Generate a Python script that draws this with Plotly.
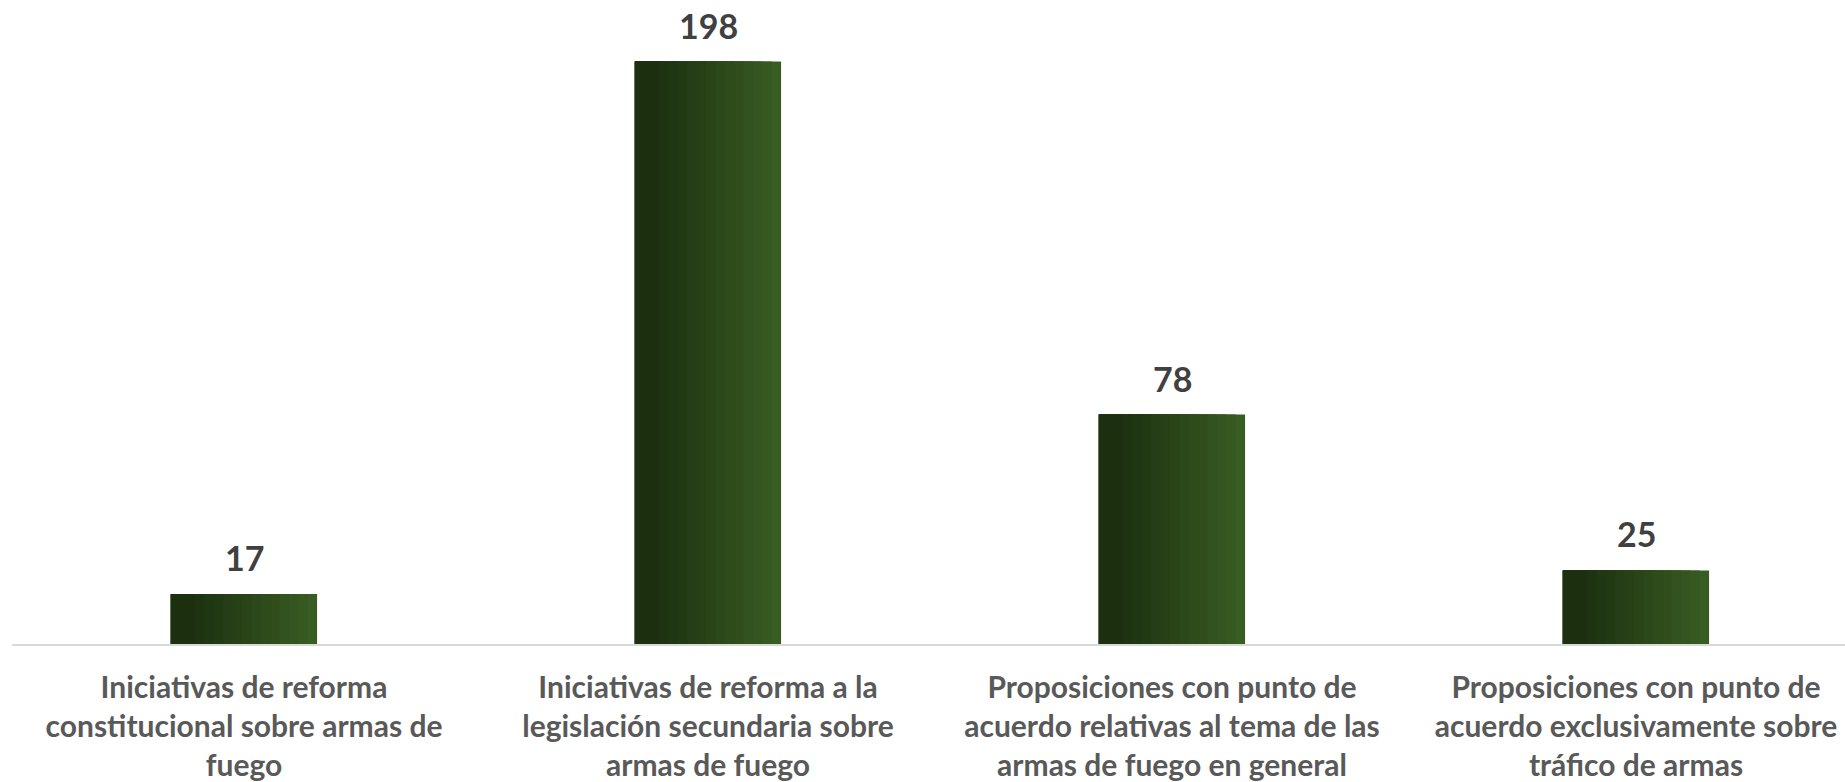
import plotly.graph_objects as go

categories = [
    "Iniciativas de reforma<br>constitucional sobre armas de<br>fuego",
    "Iniciativas de reforma a la<br>legislación secundaria sobre<br>armas de fuego",
    "Proposiciones con punto de<br>acuerdo relativas al tema de las<br>armas de fuego en general",
    "Proposiciones con punto de<br>acuerdo exclusivamente sobre<br>tráfico de armas",
]
values = [17, 198, 78, 25]

# horizontal gradient, dark on the left, lighter on the right
DARK = (28, 48, 16)
LIGHT = (56, 92, 34)
STEPS = 14
BAR_W = 0.315
FONT = "Lato, 'Open Sans', sans-serif"

fig = go.Figure()
for k in range(STEPS):
    t = k / (STEPS - 1)
    c = tuple(round(LIGHT[i] + (DARK[i] - LIGHT[i]) * t) for i in range(3))
    w = BAR_W * (1 - 0.9 * k / STEPS)
    fig.add_trace(go.Bar(
        x=categories, y=values,
        width=w, offset=-BAR_W / 2,
        marker=dict(color=f"rgb{c}", line=dict(width=0)),
        hoverinfo="skip" if k else None,
        showlegend=False,
    ))

for cat, v in zip(categories, values):
    fig.add_annotation(
        x=cat, y=v, text=f"<b>{v}</b>", showarrow=False,
        yanchor="bottom", yshift=14,
        font=dict(family=FONT, size=34, color="#404040"),
    )

fig.update_layout(
    width=1845, height=782,
    margin=dict(l=12, r=0, t=0, b=134),
    paper_bgcolor="white", plot_bgcolor="white",
    barmode="overlay",
    showlegend=False,
    font=dict(family=FONT),
    xaxis=dict(
        range=[-0.5, -0.5 + 1833 / 464],
        showline=True, linecolor="#d9d9d9", linewidth=2,
        showgrid=False, zeroline=False, ticks="",
        ticklabelstandoff=16,
        tickfont=dict(size=30, color="#595959", family=FONT),
        tickvals=categories,
        ticktext=[f"<b>{c}</b>".replace("<br>", "</b><br><b>") for c in categories],
    ),
    yaxis=dict(range=[0, 648 / 2.9596], visible=False, showgrid=False, zeroline=False),
)

# drop the default page margin so the figure fills the window exactly
fig.write_html(
    "out.html",
    config={"displayModeBar": False},
    post_script="document.body.style.margin='0';",
)
